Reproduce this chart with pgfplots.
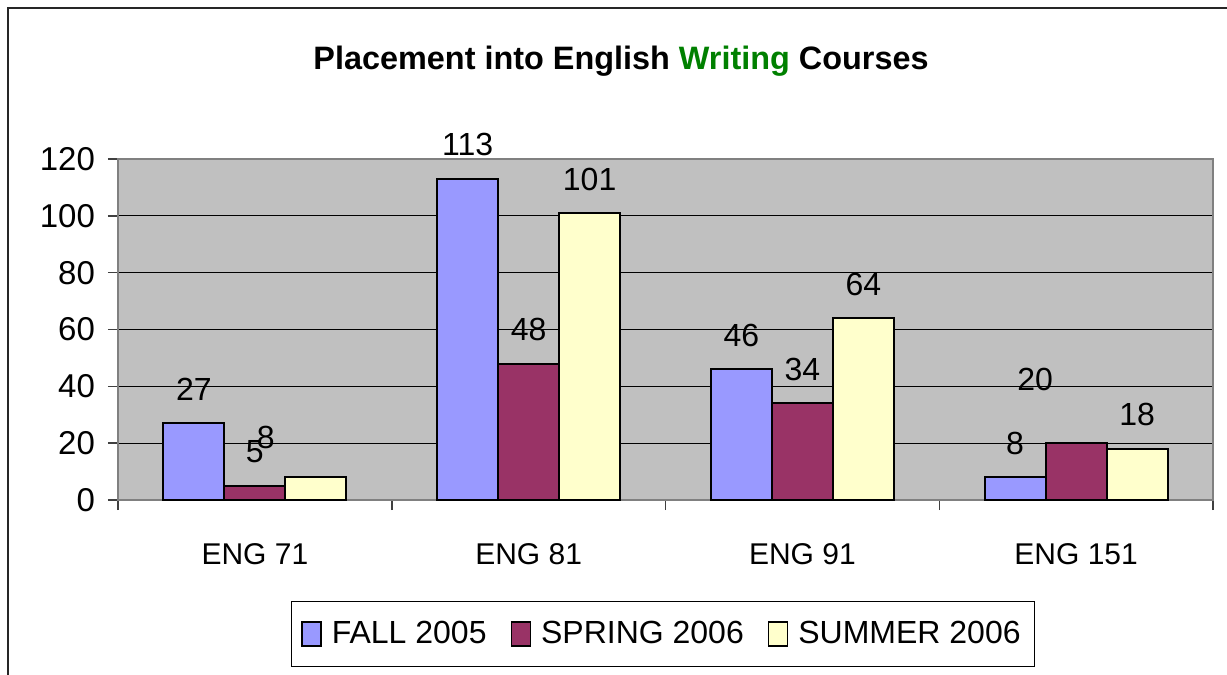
\documentclass[border=0pt]{standalone}
\usepackage{pgfplots}
\usepackage{pgfplotstable}
\pgfplotsset{compat=1.18}
\usepackage{fontspec}
\setmainfont{Liberation Sans}
\definecolor{cFall}{HTML}{9999FF}
\definecolor{cSpring}{HTML}{993366}
\definecolor{cSummer}{HTML}{FFFFCC}
\definecolor{cPlot}{HTML}{C0C0C0}
\definecolor{cTitle}{HTML}{008000}
\definecolor{cFrame}{HTML}{808080}

% x = course index, y = students; dx/dy = label offset in pt
\pgfplotstableread{
x y dx dy
0 27 0 17
1 113 0 17
2 46 0 17
3 8 0 17
}\fall
\pgfplotstableread{
x y dx dy
0 5 0 17
1 48 0 17
2 34 0 17
3 20 -20.5 32
}\spring
\pgfplotstableread{
x y dx dy
0 8 -25 20
1 101 0 17
2 64 0 17
3 18 0 17
}\summer

\begin{document}
\begin{tikzpicture}
\useasboundingbox (0,0) rectangle (613.5pt,337.5pt);
\draw[line width=0.75pt, black!85] (4pt,0) -- (4pt,333.5pt) -- (613.5pt,333.5pt);
\begin{axis}[
    at={(59pt,87.5pt)}, anchor=south west,
    width=547.5pt, height=170.5pt, scale only axis,
    ybar=0pt, bar width=30.5pt,
    xmin=-0.5, xmax=3.5, ymin=0, ymax=120,
    ytick={0,20,...,120},
    xtick={0,1,2,3},
    xticklabels={ENG 71, ENG 81, ENG 91, ENG 151},
    minor xtick={-0.5,0.5,1.5,2.5,3.5},
    major x tick style={draw=none},
    tick align=outside, tick pos=left,
    major tick length=5pt, minor tick length=5pt,
    every tick/.style={black!75, line width=0.75pt},
    axis background/.style={fill=cPlot},
    axis line style={cFrame, line width=1pt},
    ymajorgrids, grid style={black, line width=0.5pt},
    /pgf/number format/assume math mode=true,
    yticklabel style={font=\fontsize{16.5}{18}\selectfont, xshift=-3pt},
    xticklabel style={font=\fontsize{15}{17}\selectfont, yshift=-13pt},
    title={Placement into English \textcolor{cTitle}{Writing} Courses},
    title style={font=\bfseries\fontsize{16.2}{19}\selectfont, at={(0.4594,1.252)},
        anchor=center, yshift=0pt},
    visualization depends on={\thisrow{dx} \as \dx},
    visualization depends on={\thisrow{dy} \as \dy},
    nodes near coords,
    nodes near coords style={font=\fontsize{16}{18}\selectfont, anchor=center,
        xshift=\dx pt, yshift=\dy pt, /pgf/number format/assume math mode=true},
    legend columns=-1,
    legend style={at={(0.4977,-0.393)}, anchor=center, draw=black, line width=0.75pt,
        font=\fontsize{16}{18}\selectfont, inner xsep=5pt, inner ysep=8pt,
        /tikz/every odd column/.append style={column sep=3pt},
        /tikz/every even column/.append style={column sep=10pt}},
    legend image code/.code={\draw[#1, draw=black, line width=0.75pt] (0pt,-6pt) rectangle (9.5pt,6pt);},
    clip=false,
]
\addplot[fill=cFall, draw=black, line width=1pt] table[x=x, y=y] {\fall};
\addplot[fill=cSpring, draw=black, line width=1pt] table[x=x, y=y] {\spring};
\addplot[fill=cSummer, draw=black, line width=1pt] table[x=x, y=y] {\summer};
\legend{FALL 2005, SPRING 2006, SUMMER 2006}
\end{axis}
\end{tikzpicture}
\end{document}
